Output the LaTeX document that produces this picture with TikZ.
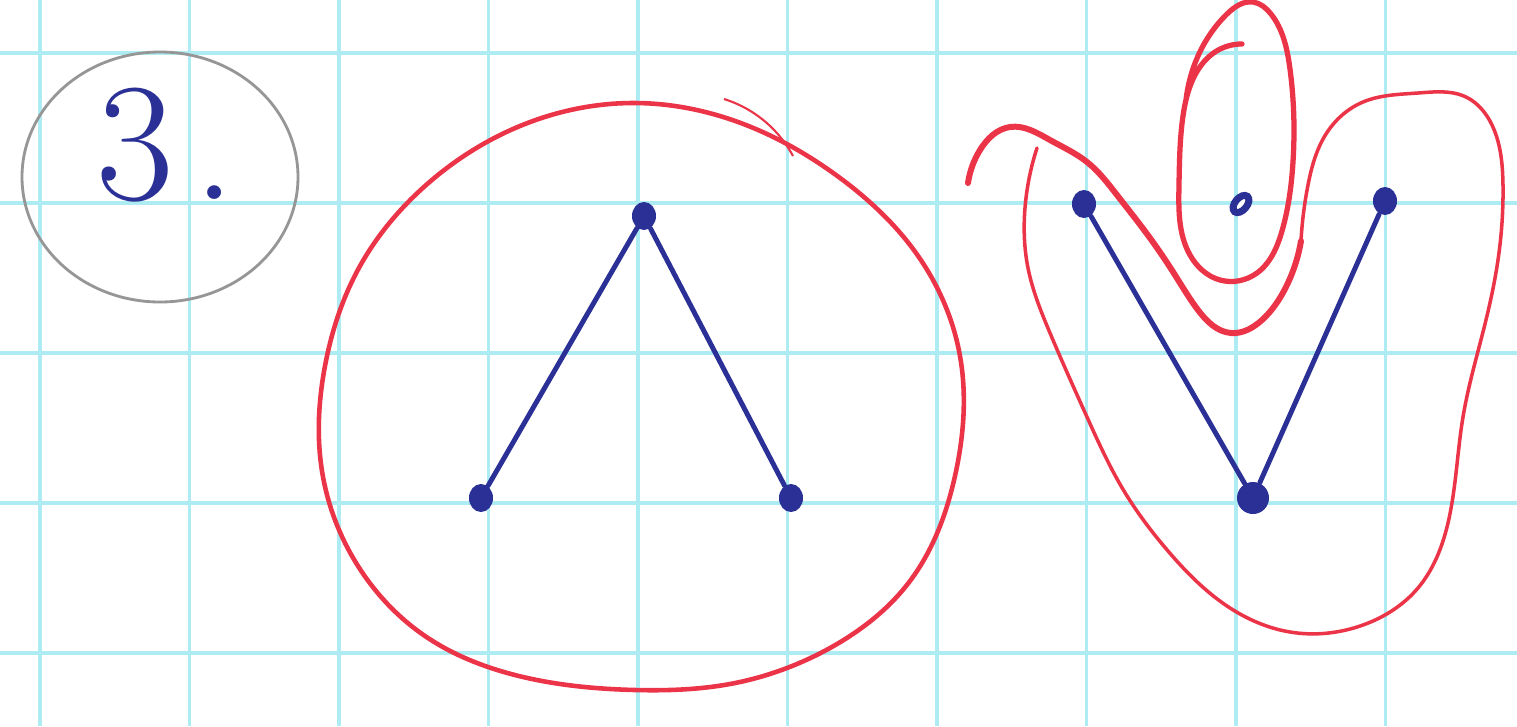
\documentclass[tikz,border=0pt]{standalone}
\usepackage{tikz}
\usetikzlibrary{shapes.geometric,hobby}
\definecolor{gridcyan}{RGB}{172,236,242}
\definecolor{inkblue}{RGB}{42,48,150}
\definecolor{markerred}{RGB}{236,52,72}
\definecolor{pencilgray}{RGB}{150,150,150}

\begin{document}
\begin{tikzpicture}[x=1cm,y=1cm,
    vtx/.style={ellipse,fill=inkblue,inner sep=0pt,minimum width=0.24cm,minimum height=0.28cm},
    edge/.style={inkblue,line width=1.4pt,line cap=round},
    loop/.style={markerred,line width=1.3pt,line cap=round,line join=round,use Hobby shortcut}]
        \def\gx{1.495}
        \def\gy{1.5}
        \useasboundingbox (0,0) rectangle (15.17,7.26);
        \fill[white] (0,0) rectangle (15.17,7.26);
        \foreach \i in {0,...,9}
          \draw[gridcyan,line width=1pt] ({0.40+\gx*\i},0) -- ++(0,7.26);
        \foreach \j in {0,...,4}
          \draw[gridcyan,line width=1pt] (0,{0.73+\gy*\j}) -- ++(15.17,0);
        \draw[pencilgray,line width=0.8pt] (1.60,5.49) ellipse [x radius=1.38,y radius=1.25];
        \node[inkblue,font=\fontsize{48}{48}\selectfont] (num) at (1.66,5.81) {3\kern0.12em.};
        \draw[loop,closed=true] (6.35,6.23) .. (7.46,6.01) .. (8.36,5.51) .. (9.16,4.73)
          .. (9.60,3.70) .. (9.55,2.50) .. (9.10,1.45) .. (8.30,0.78) .. (7.30,0.42)
          .. (6.35,0.36) .. (5.23,0.49) .. (4.25,0.90) .. (3.58,1.60) .. (3.22,2.55)
          .. (3.25,3.60) .. (3.60,4.60) .. (4.25,5.40) .. (5.20,6.00);
        \draw[markerred,line width=0.6pt,use Hobby shortcut] (7.24,6.27) .. (7.69,6.01) .. (7.93,5.70);
        \draw[loop,line width=1.7pt] (9.68,5.43) .. (9.80,5.76) .. (10.10,5.99) .. (10.50,5.86)
          .. (10.87,5.64) .. (11.17,5.31) .. (11.50,4.88) .. (11.75,4.51) .. (11.98,4.16)
          .. (12.31,3.93) .. (12.62,4.06) .. (12.86,4.39) .. (13.01,4.85);
        \draw[loop,line width=1pt] (13.01,4.85) .. (13.08,5.41) .. (13.26,5.92) .. (13.63,6.24)
          .. (14.18,6.33) .. (14.66,6.29) .. (14.92,6.01) .. (15.03,5.41) .. (14.98,4.66)
          .. (14.85,4.02) .. (14.63,3.09) .. (14.48,2.03) .. (14.18,1.38) .. (13.63,1.01)
          .. (12.90,0.94) .. (12.27,1.20) .. (11.68,1.75) .. (11.24,2.35) .. (10.87,3.09)
          .. (10.50,3.93) .. (10.28,4.58) .. (10.25,5.18) .. (10.37,5.78);
        \draw[loop,line width=1.5pt] (12.42,6.82) .. (12.15,6.74) .. (11.95,6.51) .. (11.83,6.10)
          .. (11.79,5.41) .. (11.90,4.71) .. (12.20,4.46) .. (12.57,4.53) .. (12.82,4.95)
          .. (12.93,5.64) .. (12.90,6.57) .. (12.71,7.12) .. (12.53,7.24) .. (12.27,7.12)
          .. (11.98,6.70) .. (11.86,6.26);
        \node[vtx] (lt) at (6.44,5.10) {};
        \node[vtx] (ll) at (4.81,2.28) {};
        \node[vtx] (lr) at (7.91,2.28) {};
        \node[vtx] (va) at (10.84,5.22) {};
        \node[ellipse,draw=inkblue,line width=2pt,fill=white,inner sep=0pt,
          minimum width=0.20cm,minimum height=0.12cm,rotate=50] (vb) at (12.41,5.22) {};
        \node[vtx] (vc) at (13.85,5.25) {};
        \node[vtx,minimum width=0.32cm,minimum height=0.32cm] (vd) at (12.53,2.28) {};
        \draw[edge] (lt) -- (ll);
        \draw[edge] (lt) -- (lr);
        \draw[edge] (va) -- (vd);
        \draw[edge] (vc) -- (vd);
      \end{tikzpicture}
\end{document}
